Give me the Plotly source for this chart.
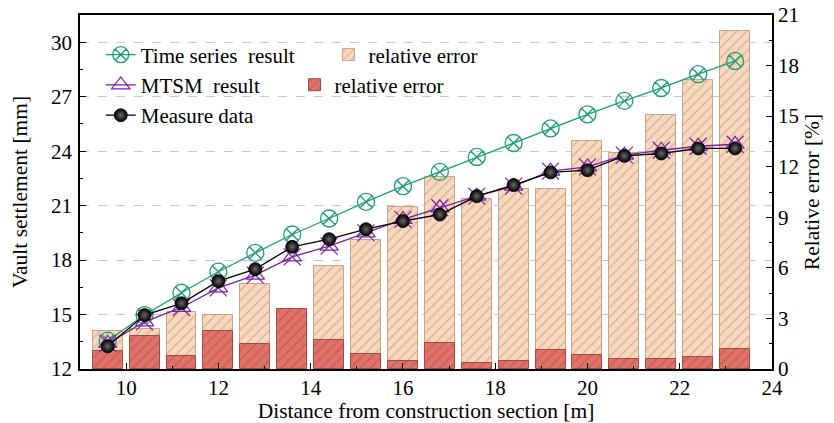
import plotly.graph_objects as go

# Distance of each monitored section from the construction face [m]
distance = [9.6, 10.4, 11.2, 12.0, 12.8, 13.6, 14.4, 15.2, 16.0,
            16.8, 17.6, 18.4, 19.2, 20.0, 20.8, 21.6, 22.4, 23.2]

# Vault settlement [mm]
time_series = [13.56, 14.97, 16.20, 17.36, 18.40, 19.41, 20.29, 21.21, 22.07,
               22.86, 23.68, 24.45, 25.25, 26.03, 26.77, 27.48, 28.24, 28.97]
mtsm = [13.41, 14.60, 15.39, 16.47, 17.17, 18.18, 18.77, 19.50, 20.24,
        20.88, 21.52, 22.07, 22.90, 23.13, 23.78, 24.05, 24.27, 24.38]
measured = [13.25, 14.97, 15.62, 16.84, 17.50, 18.73, 19.15, 19.70, 20.15,
            20.51, 21.52, 22.13, 22.83, 22.95, 23.74, 23.87, 24.15, 24.15]

# Relative error [%]
err_time_series = [2.27, 2.37, 3.36, 3.20, 5.02, 3.30, 6.11, 7.65, 9.59,
                   11.41, 10.07, 10.66, 10.66, 13.50, 12.83, 15.07, 17.14, 20.05]
err_mtsm = [1.07, 1.96, 0.77, 2.25, 1.46, 3.54, 1.72, 0.87, 0.49,
            1.56, 0.34, 0.47, 1.11, 0.83, 0.57, 0.57, 0.71, 1.17]

x_ticks = [10, 12, 14, 16, 18, 20, 22, 24]
left_ticks = [12, 15, 18, 21, 24, 27, 30]
right_ticks = [0, 3, 6, 9, 12, 15, 18, 21]

FONT = "Liberation Serif"
GREEN = "#1b9e77"
PURPLE = "#7b1fa2"
TICK_SIZE = 21
TITLE_SIZE = 21.5
LEGEND_SIZE = 21

fig = go.Figure()

# Relative-error bars on the right-hand axis (drawn underneath the curves)
fig.add_trace(go.Bar(
    x=distance, y=err_time_series, width=0.65, name="relative error",
    yaxis="y", legend="legend2",
    marker=dict(color="#fad8bc", line=dict(color="#c4a48e", width=1),
                pattern=dict(shape="/", fgcolor="#a8887a", size=7, solidity=0.18)),
))
fig.add_trace(go.Bar(
    x=distance, y=err_mtsm, width=0.65, name="relative error",
    yaxis="y", legend="legend3",
    marker=dict(color="#e0746a", line=dict(color="#a24a42", width=1),
                pattern=dict(shape="/", fgcolor="#a83e36", size=7, solidity=0.18)),
))

# Settlement curves on the left-hand axis
fig.add_trace(go.Scatter(
    x=distance, y=time_series, name="Time series\u00a0 result", yaxis="y2",
    mode="lines+markers", legendgroup="a",
    line=dict(color=GREEN, width=1.3),
    marker=dict(symbol="circle-x-open", size=17, color=GREEN, line=dict(width=1.3)),
))
fig.add_trace(go.Scatter(
    x=distance, y=mtsm, name="MTSM\u00a0 result", yaxis="y2",
    mode="lines+markers", legendgroup="b",
    line=dict(color=PURPLE, width=1.3),
    marker=dict(symbol="triangle-up-open", size=16, color=PURPLE, line=dict(width=1.2)),
))
fig.add_trace(go.Scatter(
    x=distance, y=mtsm, yaxis="y2", mode="markers", showlegend=False,
    hoverinfo="skip",
    marker=dict(symbol="x-thin-open", size=17, color=PURPLE, line=dict(width=1.2)),
))
fig.add_trace(go.Scatter(
    x=distance, y=measured, name="Measure data", yaxis="y2",
    mode="lines+markers", legendgroup="c",
    line=dict(color="black", width=1.3),
    marker=dict(symbol="circle", size=13, color="black",
                gradient=dict(type="radial", color="#6a6a6a"),
                line=dict(color="black", width=0.8)),
))

axis_common = dict(
    showline=True, linecolor="black", linewidth=1.5,
    ticks="inside", ticklen=6, tickwidth=1.2, tickcolor="black",
    tickfont=dict(family=FONT, size=TICK_SIZE, color="black"),
    zeroline=False, automargin=False,
)

fig.update_layout(
    width=834, height=423,
    margin=dict(l=80, r=62, t=15, b=54),
    paper_bgcolor="white", plot_bgcolor="white",
    barmode="overlay", bargap=0,
    font=dict(family=FONT, size=TICK_SIZE, color="black"),
    xaxis=dict(
        range=[9, 24], tickvals=x_ticks, mirror=True, showgrid=False,
        ticklabelstandoff=-1,
        title=dict(text="Distance from construction section [m]",
                   font=dict(family=FONT, size=TITLE_SIZE), standoff=0),
        minor=dict(dtick=1, tick0=9, ticks="inside", ticklen=3, tickcolor="black"),
        **axis_common,
    ),
    yaxis=dict(
        range=[0, 21], tickvals=right_ticks, side="right", showgrid=False,
        title=dict(text="Relative error [%]", font=dict(family=FONT, size=TITLE_SIZE),
                   standoff=6),
        minor=dict(dtick=1.5, tick0=0, ticks="inside", ticklen=3, tickcolor="black"),
        **axis_common,
    ),
    yaxis2=dict(
        range=[12, 31.5], tickvals=left_ticks, side="left", overlaying="y",
        showgrid=True, gridcolor="#c8c8c8", griddash="dash", gridwidth=1,
        ticklabelstandoff=2,
        title=dict(text="Vault settlement [mm]", font=dict(family=FONT, size=TITLE_SIZE),
                   standoff=18),
        minor=dict(dtick=1.5, tick0=12, ticks="inside", ticklen=3, tickcolor="black"),
        **axis_common,
    ),
    legend=dict(x=0.03, y=0.945, xanchor="left", yanchor="top",
                bgcolor="rgba(0,0,0,0)", tracegroupgap=0,
                font=dict(family=FONT, size=LEGEND_SIZE), itemwidth=30),
    legend2=dict(x=0.359, y=0.945, xanchor="left", yanchor="top",
                 bgcolor="rgba(0,0,0,0)", font=dict(family=FONT, size=LEGEND_SIZE)),
    legend3=dict(x=0.31, y=0.86, xanchor="left", yanchor="top",
                 bgcolor="rgba(0,0,0,0)", font=dict(family=FONT, size=LEGEND_SIZE)),
)

fig.write_html("out.html")
